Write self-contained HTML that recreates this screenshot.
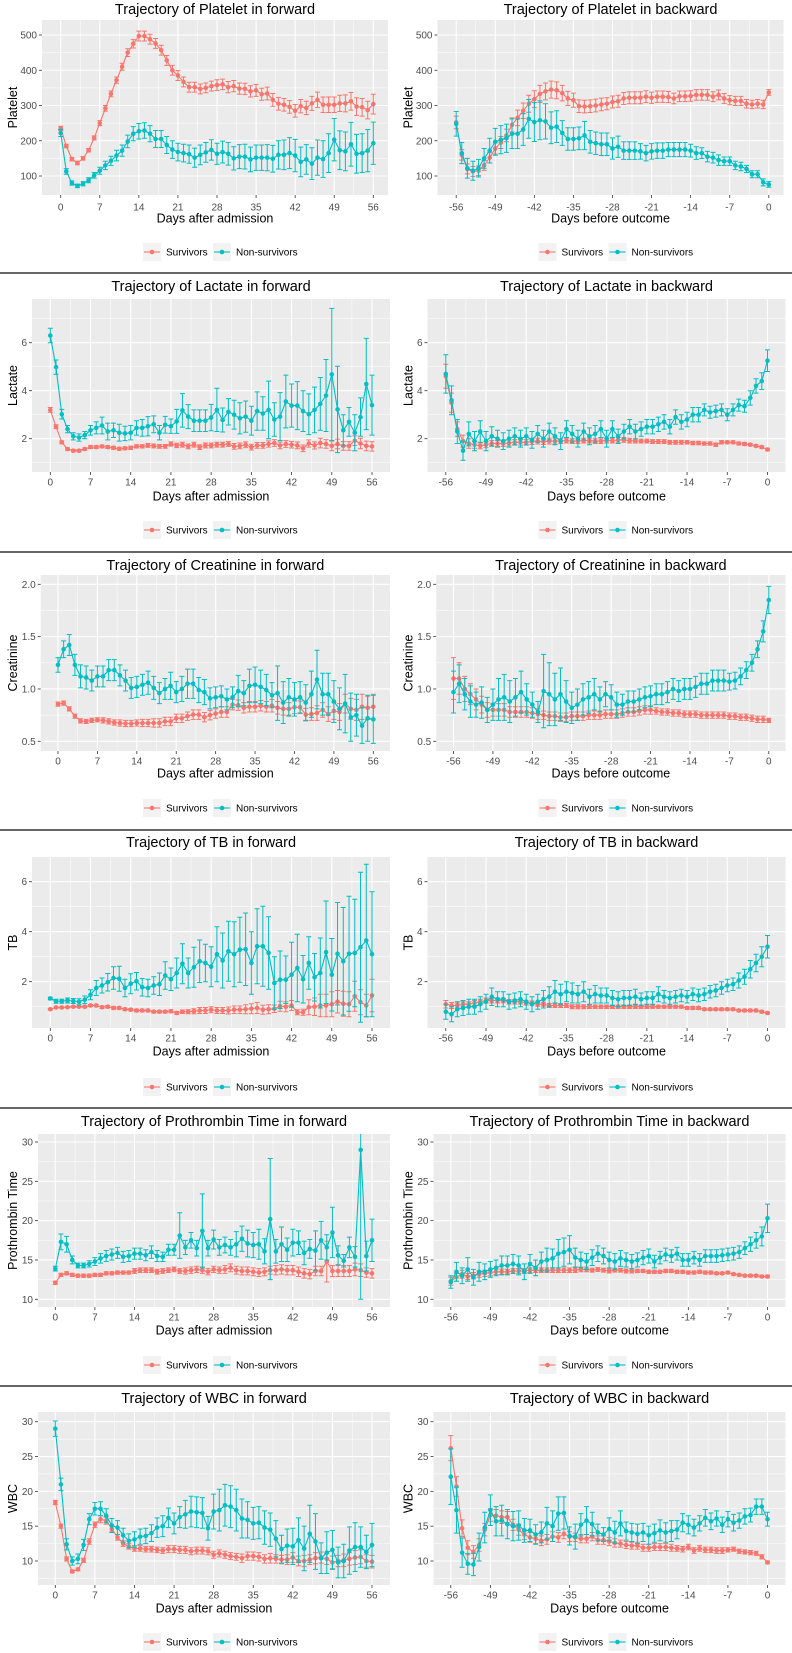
<!DOCTYPE html>
<html><head><meta charset="utf-8"><style>
html,body{margin:0;padding:0;background:#fff;}
svg{display:block;font-family:"Liberation Sans",Arial,sans-serif;}
</style></head><body>
<svg id="fig" width="792" height="1653" viewBox="0 0 792 1653" xmlns="http://www.w3.org/2000/svg"><defs id="defs"></defs></svg>
<script>
// ---------- DATA (days 0..56 forward, -56..0 backward) ----------
const daysForward = Array.from({length:57},(_, i)=>i);
const xTicksForward = [0,7,14,21,28,35,42,49,56];
const xTicksBackward = [-56,-49,-42,-35,-28,-21,-14,-7,0];
const seriesNames = ["Survivors","Non-survivors"];

const plateletFwdSurv = [235,185,148,137,150,173,208,250,292,333,372,410,450,475,497,497,488,476,457,428,400,385,367,352,352,347,350,355,358,360,352,355,348,347,340,343,332,334,316,305,302,296,285,298,293,306,316,302,302,302,306,306,312,297,295,287,304];
const plateletFwdSurvErr = [6,5,5,5,5,5,6,7,8,8,9,10,11,12,14,14,14,14,14,14,14,14,14,14,14,14,14,14,15,15,16,16,16,16,16,17,17,18,18,18,18,18,18,19,19,20,22,22,22,22,23,24,25,25,25,25,28];
const plateletFwdNon = [222,113,80,72,78,88,102,115,130,143,158,172,198,220,227,229,220,205,205,188,175,168,165,162,152,160,167,174,163,168,163,150,155,155,147,152,152,152,149,160,160,165,158,140,147,135,152,148,165,203,173,170,190,163,165,172,193];
const plateletFwdNonErr = [10,8,6,5,6,7,8,10,12,13,15,16,18,20,22,22,23,24,24,24,25,25,25,26,27,28,28,29,30,31,32,33,34,35,35,36,36,37,38,40,42,44,46,42,42,45,50,52,55,60,55,55,62,55,55,60,60];

const plateletBwdSurv = [252,160,120,113,115,130,152,178,195,215,245,265,285,305,318,333,340,345,343,335,320,315,298,297,298,300,303,305,310,312,320,322,322,322,325,322,325,325,324,320,326,326,327,330,330,330,325,330,320,315,313,313,305,303,305,303,337];
const plateletBwdSurvErr = [18,15,14,14,14,14,15,16,17,18,20,22,22,24,24,24,24,24,24,22,20,20,18,18,18,18,18,17,17,17,17,17,17,17,17,16,16,16,16,15,15,15,15,15,15,15,14,14,14,13,13,13,12,12,12,12,8];
const plateletBwdNon = [248,165,122,115,122,150,172,197,203,207,220,220,232,262,253,258,255,237,240,222,205,205,207,215,197,193,190,190,178,183,172,172,172,170,165,170,172,172,175,175,175,175,172,165,165,155,152,145,142,142,130,127,120,105,105,82,76];
const plateletBwdNonErr = [35,30,28,27,25,28,35,38,40,40,42,42,45,55,55,55,50,45,45,35,32,32,32,40,32,32,32,32,30,30,25,25,25,22,22,22,22,22,20,20,20,20,18,18,15,15,15,15,12,12,12,12,10,10,10,10,8];

const lactateFwdSurv = [3.2,2.5,1.85,1.57,1.5,1.5,1.57,1.65,1.65,1.68,1.65,1.62,1.58,1.6,1.62,1.68,1.68,1.72,1.7,1.68,1.68,1.78,1.72,1.75,1.68,1.75,1.65,1.72,1.72,1.75,1.75,1.78,1.68,1.7,1.75,1.65,1.72,1.72,1.78,1.82,1.72,1.78,1.75,1.72,1.6,1.8,1.72,1.82,1.78,1.7,1.78,1.7,1.7,1.92,1.8,1.7,1.68];
const lactateFwdSurvErr = [0.1,0.08,0.06,0.05,0.05,0.05,0.05,0.06,0.06,0.06,0.06,0.06,0.06,0.06,0.07,0.07,0.07,0.08,0.08,0.08,0.08,0.09,0.09,0.1,0.1,0.1,0.1,0.1,0.1,0.1,0.1,0.1,0.12,0.12,0.12,0.12,0.12,0.12,0.13,0.14,0.14,0.14,0.14,0.14,0.14,0.15,0.15,0.2,0.18,0.2,0.2,0.18,0.18,0.2,0.22,0.2,0.2];
const lactateFwdNon = [6.3,4.98,3.02,2.4,2.1,2.05,2.15,2.35,2.45,2.55,2.3,2.35,2.25,2.22,2.25,2.45,2.45,2.52,2.6,2.25,2.58,2.52,2.72,3.18,2.92,2.75,2.75,2.75,2.88,3.2,2.78,3.12,3.0,2.85,2.92,2.75,3.15,3.05,3.2,2.8,2.92,3.55,3.38,3.38,3.15,3.02,3.2,3.45,3.8,4.68,3.22,2.35,2.7,2.25,2.9,4.28,3.4];
const lactateFwdNonErr = [0.3,0.3,0.2,0.15,0.15,0.15,0.15,0.2,0.25,0.35,0.35,0.3,0.35,0.3,0.3,0.3,0.35,0.4,0.35,0.3,0.35,0.3,0.5,0.7,0.5,0.45,0.45,0.45,0.55,0.9,0.5,0.55,0.6,0.65,0.65,0.6,0.8,0.7,1.2,0.7,1.0,1.1,0.9,1.0,0.85,0.85,0.95,1.1,1.5,2.75,1.8,0.65,0.6,0.75,0.8,1.9,1.25];

const lactateBwdSurv = [4.6,3.5,2.4,1.9,1.8,1.75,1.7,1.75,1.8,1.8,1.8,1.82,1.85,1.85,1.85,1.88,1.9,1.88,1.9,1.9,1.9,1.92,1.9,1.9,1.92,1.92,1.9,1.9,1.92,1.92,1.95,1.95,1.92,1.9,1.9,1.9,1.88,1.88,1.88,1.85,1.85,1.85,1.85,1.82,1.82,1.8,1.8,1.75,1.85,1.85,1.85,1.8,1.78,1.75,1.7,1.65,1.55];
const lactateBwdSurvErr = [0.5,0.4,0.3,0.25,0.2,0.15,0.12,0.12,0.12,0.12,0.12,0.12,0.12,0.12,0.12,0.12,0.12,0.12,0.12,0.12,0.1,0.1,0.1,0.1,0.1,0.1,0.1,0.1,0.1,0.1,0.1,0.1,0.1,0.08,0.08,0.08,0.08,0.08,0.08,0.08,0.08,0.08,0.07,0.07,0.07,0.07,0.07,0.07,0.07,0.06,0.06,0.06,0.06,0.05,0.05,0.05,0.05];
const lactateBwdNon = [4.7,3.6,2.3,1.5,2.2,1.9,2.3,1.9,2.1,2.0,1.9,2.0,2.1,2.0,2.1,1.95,2.2,2.0,2.3,2.1,1.9,2.4,2.2,2.0,2.3,2.1,2.2,2.4,2.0,2.4,2.1,2.3,2.5,2.3,2.4,2.5,2.5,2.6,2.7,2.5,2.9,2.7,2.8,3.0,3.0,3.2,3.1,3.15,3.2,3.0,3.2,3.4,3.35,3.7,4.2,4.4,5.25];
const lactateBwdNonErr = [0.8,0.6,0.5,0.4,0.5,0.4,0.45,0.4,0.4,0.35,0.35,0.35,0.35,0.35,0.35,0.35,0.35,0.35,0.35,0.35,0.35,0.35,0.35,0.35,0.35,0.35,0.35,0.35,0.35,0.35,0.3,0.3,0.3,0.3,0.3,0.3,0.3,0.3,0.3,0.3,0.3,0.3,0.3,0.3,0.3,0.25,0.25,0.25,0.25,0.25,0.25,0.25,0.25,0.3,0.3,0.35,0.45];

const creatFwdSurv = [0.855,0.865,0.81,0.74,0.695,0.69,0.70,0.705,0.70,0.69,0.68,0.675,0.67,0.67,0.675,0.675,0.675,0.675,0.675,0.69,0.69,0.72,0.72,0.74,0.755,0.755,0.73,0.75,0.765,0.78,0.78,0.85,0.845,0.82,0.83,0.83,0.84,0.83,0.84,0.82,0.81,0.81,0.825,0.825,0.755,0.76,0.77,0.80,0.76,0.79,0.78,0.86,0.81,0.80,0.83,0.82,0.83];
const creatFwdSurvErr = [0.02,0.02,0.02,0.02,0.02,0.02,0.02,0.02,0.025,0.025,0.025,0.03,0.03,0.03,0.03,0.035,0.035,0.04,0.04,0.04,0.04,0.04,0.04,0.04,0.045,0.045,0.045,0.045,0.045,0.05,0.05,0.05,0.05,0.05,0.05,0.05,0.05,0.05,0.06,0.06,0.06,0.06,0.06,0.06,0.06,0.06,0.07,0.07,0.07,0.08,0.08,0.09,0.1,0.1,0.12,0.11,0.12];
const creatFwdNon = [1.23,1.38,1.42,1.23,1.12,1.11,1.08,1.12,1.12,1.18,1.18,1.13,1.08,1.01,1.02,1.04,1.06,1.01,0.96,1.0,1.03,0.97,1.0,1.05,1.05,0.99,0.97,0.91,0.92,0.93,0.90,0.92,0.98,0.96,1.03,1.04,1.02,0.99,0.94,0.96,0.87,0.92,0.90,0.92,0.87,0.95,1.09,0.95,0.95,0.88,0.81,0.86,0.73,0.75,0.65,0.72,0.71];
const creatFwdNonErr = [0.07,0.08,0.1,0.1,0.11,0.11,0.1,0.1,0.1,0.1,0.1,0.1,0.1,0.1,0.1,0.1,0.11,0.11,0.1,0.1,0.13,0.1,0.12,0.14,0.14,0.12,0.12,0.1,0.1,0.1,0.1,0.1,0.15,0.12,0.16,0.17,0.16,0.15,0.12,0.26,0.2,0.18,0.16,0.15,0.17,0.22,0.28,0.2,0.2,0.2,0.2,0.28,0.23,0.2,0.17,0.22,0.23];

const creatBwdSurv = [1.1,1.1,1.0,0.95,0.9,0.85,0.8,0.8,0.8,0.8,0.78,0.78,0.78,0.78,0.77,0.76,0.75,0.74,0.74,0.73,0.73,0.74,0.74,0.74,0.75,0.75,0.75,0.76,0.76,0.76,0.77,0.78,0.78,0.79,0.80,0.80,0.79,0.78,0.78,0.77,0.77,0.76,0.76,0.76,0.75,0.75,0.75,0.75,0.75,0.74,0.74,0.73,0.73,0.72,0.71,0.71,0.70];
const creatBwdSurvErr = [0.2,0.15,0.12,0.1,0.1,0.08,0.07,0.06,0.06,0.06,0.05,0.05,0.05,0.05,0.05,0.05,0.04,0.04,0.04,0.04,0.04,0.04,0.04,0.04,0.04,0.04,0.04,0.04,0.04,0.04,0.04,0.04,0.04,0.04,0.04,0.04,0.03,0.03,0.03,0.03,0.03,0.03,0.03,0.03,0.03,0.03,0.03,0.03,0.03,0.03,0.03,0.03,0.03,0.03,0.03,0.03,0.02];
const creatBwdNon = [0.97,1.05,0.95,0.88,0.85,0.87,0.80,0.85,0.90,0.92,0.88,0.92,0.97,0.90,0.85,0.78,0.98,0.95,0.90,0.95,0.88,0.82,0.85,0.90,0.92,0.95,0.90,0.95,0.92,0.85,0.85,0.88,0.88,0.90,0.92,0.93,0.95,0.95,0.97,1.0,0.98,1.0,1.0,1.02,1.05,1.05,1.08,1.08,1.08,1.07,1.08,1.12,1.18,1.25,1.38,1.55,1.85];
const creatBwdNonErr = [0.2,0.18,0.15,0.15,0.12,0.15,0.12,0.15,0.2,0.22,0.2,0.18,0.2,0.15,0.12,0.1,0.35,0.3,0.25,0.25,0.2,0.15,0.15,0.15,0.15,0.15,0.12,0.12,0.12,0.12,0.1,0.1,0.1,0.1,0.1,0.1,0.1,0.1,0.1,0.1,0.1,0.1,0.1,0.1,0.1,0.1,0.1,0.1,0.1,0.08,0.08,0.08,0.08,0.08,0.08,0.1,0.13];

const tbFwdSurv = [0.9,0.97,0.97,0.98,1.0,1.0,1.0,1.05,1.05,0.98,1.0,0.95,0.95,0.9,0.88,0.85,0.85,0.85,0.8,0.8,0.8,0.82,0.75,0.8,0.8,0.82,0.85,0.85,0.88,0.85,0.85,0.85,0.88,0.88,0.9,0.92,0.95,0.88,0.9,0.92,1.02,1.0,1.05,0.78,0.78,0.98,1.0,1.05,1.05,1.1,1.2,1.12,1.1,1.42,1.18,1.05,1.45];
const tbFwdSurvErr = [0.03,0.03,0.03,0.03,0.03,0.03,0.04,0.04,0.05,0.05,0.05,0.05,0.05,0.05,0.05,0.05,0.05,0.05,0.05,0.05,0.05,0.06,0.06,0.07,0.08,0.1,0.12,0.12,0.12,0.12,0.12,0.14,0.15,0.15,0.18,0.2,0.22,0.18,0.18,0.15,0.2,0.2,0.2,0.1,0.12,0.3,0.35,0.45,0.45,0.5,0.45,0.5,0.5,0.6,0.5,0.45,0.65];
const tbFwdNon = [1.33,1.22,1.22,1.25,1.23,1.2,1.28,1.48,1.75,1.85,1.98,2.15,2.12,1.75,1.92,2.02,1.78,1.75,1.85,1.9,2.25,2.1,2.35,2.72,2.35,2.58,2.82,2.75,2.6,3.1,2.85,3.22,3.1,3.28,3.3,2.75,3.42,3.42,3.15,1.95,2.08,2.08,2.28,2.55,2.1,2.75,2.18,2.35,3.18,2.28,3.12,2.82,3.12,3.15,3.38,3.65,3.1];
const tbFwdNonErr = [0.05,0.08,0.08,0.1,0.1,0.12,0.15,0.2,0.3,0.3,0.35,0.45,0.5,0.35,0.4,0.35,0.35,0.35,0.35,0.45,0.55,0.45,0.6,0.8,0.6,0.8,0.85,0.75,0.8,1.1,1.1,1.2,1.3,1.3,1.45,1.25,1.5,1.6,1.45,1.05,1.15,0.95,1.3,1.35,0.95,1.05,0.95,1.4,2.05,1.45,2.05,2.15,2.3,2.15,3.0,3.05,2.5];

const tbBwdSurv = [1.1,1.05,1.05,1.1,1.1,1.15,1.2,1.25,1.25,1.25,1.25,1.2,1.2,1.2,1.15,1.15,1.1,1.1,1.05,1.05,1.05,1.05,1.0,1.0,1.0,1.0,1.0,1.0,1.0,1.0,1.0,1.0,1.0,1.0,1.0,1.0,1.0,1.0,1.0,1.0,1.0,1.0,0.95,0.95,0.95,0.9,0.9,0.9,0.9,0.9,0.9,0.85,0.85,0.85,0.85,0.8,0.75];
const tbBwdSurvErr = [0.15,0.12,0.1,0.1,0.1,0.1,0.1,0.1,0.1,0.1,0.09,0.09,0.09,0.09,0.08,0.08,0.08,0.08,0.08,0.08,0.08,0.08,0.08,0.08,0.08,0.07,0.07,0.07,0.07,0.07,0.07,0.07,0.07,0.07,0.07,0.07,0.06,0.06,0.06,0.06,0.06,0.06,0.06,0.06,0.06,0.05,0.05,0.05,0.05,0.05,0.05,0.05,0.05,0.05,0.05,0.05,0.04];
const tbBwdNon = [0.8,0.7,0.9,0.95,1.0,1.0,1.1,1.2,1.4,1.3,1.3,1.2,1.25,1.3,1.2,1.1,1.2,1.3,1.4,1.6,1.5,1.6,1.55,1.5,1.6,1.4,1.5,1.45,1.45,1.35,1.3,1.35,1.35,1.4,1.3,1.35,1.35,1.5,1.4,1.35,1.4,1.45,1.4,1.5,1.45,1.5,1.6,1.65,1.75,1.85,1.9,2.05,2.2,2.5,2.75,3.0,3.4];
const tbBwdNonErr = [0.3,0.3,0.3,0.3,0.3,0.3,0.3,0.3,0.35,0.3,0.3,0.3,0.3,0.3,0.3,0.3,0.3,0.35,0.4,0.45,0.4,0.4,0.4,0.35,0.4,0.3,0.35,0.3,0.3,0.3,0.3,0.3,0.3,0.3,0.25,0.25,0.25,0.3,0.25,0.25,0.25,0.25,0.25,0.25,0.25,0.25,0.25,0.25,0.25,0.25,0.25,0.3,0.3,0.35,0.35,0.4,0.45];

const ptFwdSurv = [12.1,13.1,13.3,13.1,13.0,13.0,13.0,13.1,13.1,13.3,13.3,13.4,13.4,13.4,13.6,13.7,13.7,13.7,13.5,13.6,13.7,13.8,13.6,13.6,13.7,13.8,13.7,13.5,13.8,13.7,13.8,14.0,13.7,13.6,13.6,13.5,13.4,13.5,13.7,13.7,13.8,13.7,13.7,13.5,13.3,13.2,13.6,13.6,14.8,13.6,13.6,13.6,13.6,13.8,13.7,13.4,13.3];
const ptFwdSurvErr = [0.2,0.2,0.2,0.2,0.2,0.2,0.2,0.2,0.2,0.2,0.2,0.2,0.2,0.2,0.3,0.3,0.3,0.3,0.3,0.3,0.3,0.3,0.3,0.4,0.4,0.4,0.4,0.4,0.4,0.4,0.5,0.5,0.5,0.5,0.5,0.5,0.5,0.5,0.5,0.6,0.6,0.6,0.6,0.6,0.6,0.6,0.6,0.6,2.6,0.7,0.7,0.7,0.7,0.8,0.8,0.6,0.6];
const ptFwdNon = [13.9,17.3,17.0,15.0,14.3,14.3,14.5,14.8,15.2,15.5,15.7,15.9,15.4,15.5,15.8,15.8,15.6,16.0,15.5,15.4,16.3,16.3,18.1,16.6,17.5,16.5,18.7,16.5,17.6,16.6,16.9,16.6,17.0,17.7,17.1,16.9,17.0,16.1,20.2,16.1,17.0,16.3,17.2,17.2,15.9,16.4,16.2,17.5,16.6,18.5,15.6,14.9,16.6,15.4,29.0,15.5,17.5];
const ptFwdNonErr = [0.3,1.0,1.0,0.5,0.3,0.3,0.4,0.5,0.6,0.7,0.7,0.7,0.7,0.7,0.7,0.7,0.7,0.8,0.7,0.6,0.7,0.7,2.9,0.9,1.0,1.0,4.7,1.0,1.2,1.0,1.0,1.0,1.6,1.6,1.7,1.6,1.9,1.6,7.7,1.5,2.2,1.5,1.7,1.5,1.5,1.2,2.5,2.4,1.6,3.2,1.2,0.8,1.3,1.3,19,1.9,2.7];

const ptBwdSurv = [12.3,12.8,13.2,12.9,13.0,13.2,13.3,13.4,13.5,13.5,13.5,13.6,13.6,13.6,13.7,13.7,13.7,13.7,13.7,13.7,13.7,13.7,13.7,13.8,13.8,13.7,13.8,13.7,13.6,13.7,13.7,13.6,13.6,13.6,13.6,13.5,13.5,13.5,13.6,13.6,13.5,13.5,13.4,13.4,13.5,13.4,13.4,13.3,13.3,13.4,13.2,13.1,13.0,13.0,13.0,12.9,12.9];
const ptBwdSurvErr = [0.5,0.5,0.5,0.4,0.4,0.4,0.4,0.4,0.35,0.35,0.3,0.3,0.3,0.3,0.3,0.3,0.3,0.3,0.3,0.3,0.3,0.3,0.3,0.3,0.3,0.25,0.25,0.25,0.25,0.25,0.25,0.25,0.25,0.2,0.2,0.2,0.2,0.2,0.2,0.2,0.2,0.2,0.2,0.2,0.2,0.2,0.2,0.15,0.15,0.15,0.15,0.15,0.15,0.15,0.15,0.15,0.15];
const ptBwdNon = [12.2,13.5,13.0,13.8,12.8,13.5,13.5,13.8,14.0,14.3,14.3,14.5,14.3,13.5,14.5,14.0,14.8,15.0,15.2,15.8,16.0,16.3,15.3,15.0,14.8,15.3,15.8,15.5,15.0,14.8,15.2,15.0,14.8,15.0,15.3,15.5,14.8,15.3,15.7,15.5,15.8,15.0,15.0,15.3,15.0,15.5,15.5,15.5,15.6,15.7,15.8,16.0,16.5,17.0,17.5,18.0,20.3];
const ptBwdNonErr = [0.8,1.2,1.0,1.5,1.0,1.2,1.0,1.0,1.0,1.2,1.2,1.2,1.2,1.0,1.2,1.0,1.2,1.5,1.2,1.8,1.8,1.8,1.2,1.0,1.0,1.0,1.0,1.0,1.0,1.0,1.0,0.9,0.9,0.9,0.9,0.9,0.8,0.8,0.8,0.8,0.8,0.8,0.8,0.8,0.8,0.8,0.8,0.8,0.8,0.8,0.8,0.8,0.8,0.9,1.0,1.2,1.8];

const wbcFwdSurv = [18.4,15.0,10.3,8.5,8.8,10.1,12.8,15.2,16.0,15.8,14.6,13.4,12.5,12.1,11.8,11.8,11.7,11.7,11.6,11.5,11.7,11.7,11.6,11.6,11.4,11.5,11.5,11.4,10.9,11.1,10.9,10.7,10.6,10.4,10.7,10.7,10.6,10.3,10.4,10.3,10.2,10.2,10.5,10.0,10.0,10.2,10.4,10.5,10.3,9.8,10.0,10.1,10.3,10.5,10.6,10.0,9.9];
const wbcFwdSurvErr = [0.3,0.3,0.3,0.2,0.2,0.3,0.4,0.4,0.5,0.5,0.4,0.4,0.4,0.4,0.4,0.4,0.4,0.4,0.4,0.4,0.5,0.5,0.5,0.5,0.5,0.5,0.5,0.5,0.5,0.5,0.5,0.5,0.5,0.6,0.6,0.6,0.6,0.6,0.7,0.6,0.6,0.7,0.7,0.7,0.8,0.7,0.8,0.8,0.8,0.9,0.8,0.9,0.9,1.0,1.0,0.9,0.9];
const wbcFwdNon = [29.0,21.0,12.4,10.0,10.3,12.3,16.0,17.5,17.5,16.5,15.1,14.8,13.7,12.9,13.1,13.5,13.6,14.0,14.8,15.0,16.2,15.4,16.3,16.7,17.1,17.0,16.9,14.7,17.1,17.3,18.0,17.8,17.3,16.1,15.9,15.4,15.5,14.8,14.5,13.2,11.7,12.2,12.1,13.0,11.8,13.9,12.8,10.4,11.2,11.6,9.8,10.0,11.5,12.0,12.0,11.3,12.3];
const wbcFwdNonErr = [1.1,0.9,0.8,0.6,0.7,0.8,0.8,0.9,1.0,1.0,1.0,1.0,1.0,1.0,1.1,1.1,1.1,1.2,1.4,1.5,1.4,1.5,1.5,2.0,2.2,2.2,2.2,1.7,2.5,3.0,3.0,3.0,3.0,2.8,2.6,2.3,2.3,2.4,2.4,2.6,2.0,2.4,2.6,3.2,3.2,4.1,4.0,2.2,3.0,2.8,2.2,2.4,3.4,3.5,2.9,2.4,3.1];

const wbcBwdSurv = [26.2,20.7,14.7,11.9,11.3,12.3,14.5,16.6,16.5,16.3,16.3,15.2,14.5,13.8,13.4,13.2,12.9,13.1,13.5,13.4,13.9,13.5,13.4,13.2,13.2,13.5,13.0,13.0,12.8,12.6,12.5,12.3,12.2,12.2,11.9,11.9,12.0,12.0,12.0,11.9,11.8,11.7,12.0,11.5,11.8,11.6,11.6,11.5,11.5,11.6,11.7,11.4,11.3,11.2,11.1,10.6,9.8];
const wbcBwdSurvErr = [1.8,1.4,1.2,1.0,0.9,0.9,0.9,0.9,0.9,0.9,0.8,0.8,0.8,0.7,0.7,0.7,0.7,0.7,0.7,0.7,0.7,0.7,0.6,0.6,0.6,0.6,0.6,0.6,0.6,0.6,0.5,0.5,0.5,0.5,0.5,0.5,0.5,0.5,0.5,0.5,0.4,0.4,0.4,0.4,0.4,0.4,0.4,0.4,0.4,0.3,0.3,0.3,0.3,0.3,0.3,0.3,0.2];
const wbcBwdNon = [22.1,17.3,11.2,9.6,9.5,12.0,14.8,17.3,15.7,15.8,15.3,15.0,15.1,14.4,14.4,13.8,14.1,15.4,15.0,16.8,16.9,13.6,13.5,15.2,15.8,15.3,14.1,13.8,14.6,14.1,15.4,14.3,14.1,13.9,14.1,13.7,14.0,14.4,14.1,14.3,14.5,15.5,15.2,14.8,15.4,16.2,15.7,16.1,15.2,16.0,15.5,15.8,16.4,16.6,17.8,17.8,16.0];
const wbcBwdNonErr = [4.0,3.3,2.1,1.5,1.6,2.0,2.2,2.2,2.1,2.2,2.1,2.1,2.1,1.7,1.6,1.4,1.5,2.3,2.2,2.4,2.3,1.3,1.8,1.6,2.0,1.7,1.2,1.0,1.6,1.6,1.8,1.3,1.3,1.4,1.3,1.3,1.3,1.5,1.4,1.5,1.3,1.3,1.3,1.2,1.1,1.2,1.2,1.1,1.1,1.1,1.2,1.1,1.1,1.0,1.1,1.1,1.0];

// ---------- LAYOUT ----------
const NS = "http://www.w3.org/2000/svg";
const svg = document.getElementById('fig');
const defs = document.getElementById('defs');
const COLORS = ["#F8766D","#00BFC4"];
const RIGHT_SHIFT = 395.5;

const rows = [
 {name:"Platelet", label:"Platelet", top:20, bot:195, left:42, right:388, x0:60.7, x56:373.3, ya:[500,35], yb:[100,176], yticks:[100,200,300,400,500], yminor:[150,250,350,450], titleY:9, tickY:207, xtitleY:218, legY:252,
  fwd:[plateletFwdSurv,plateletFwdSurvErr,plateletFwdNon,plateletFwdNonErr], bwd:[plateletBwdSurv,plateletBwdSurvErr,plateletBwdNon,plateletBwdNonErr]},
 {name:"Lactate", label:"Lactate", top:299, bot:472, left:32, right:390, x0:50.3, x56:372, ya:[6,342.7], yb:[2,438.7], yticks:[2,4,6], yminor:[1,3,5,7], titleY:286, tickY:482, xtitleY:496, legY:530,
  fwd:[lactateFwdSurv,lactateFwdSurvErr,lactateFwdNon,lactateFwdNonErr], bwd:[lactateBwdSurv,lactateBwdSurvErr,lactateBwdNon,lactateBwdNonErr]},
 {name:"Creatinine", label:"Creatinine", top:575, bot:751, left:40.7, right:390, x0:58, x56:373.3, ya:[2.0,584.3], yb:[0.5,741.3], yticks:[0.5,1.0,1.5,2.0], yminor:[0.75,1.25,1.75], titleY:565, tickY:761, xtitleY:773, legY:808,
  fwd:[creatFwdSurv,creatFwdSurvErr,creatFwdNon,creatFwdNonErr], bwd:[creatBwdSurv,creatBwdSurvErr,creatBwdNon,creatBwdNonErr], dec:1},
 {name:"TB", label:"TB", top:857, bot:1028, left:32, right:390, x0:50.3, x56:372, ya:[6,881.7], yb:[2,981.7], yticks:[2,4,6], yminor:[1,3,5], titleY:842, tickY:1038, xtitleY:1051, legY:1087,
  fwd:[tbFwdSurv,tbFwdSurvErr,tbFwdNon,tbFwdNonErr], bwd:[tbBwdSurv,tbBwdSurvErr,tbBwdNon,tbBwdNonErr]},
 {name:"Prothrombin Time", label:"Prothrombin Time", top:1134, bot:1307, left:38, right:390, x0:55.3, x56:372, ya:[30,1142], yb:[10,1299.3], yticks:[10,15,20,25,30], yminor:[12.5,17.5,22.5,27.5], titleY:1121, tickY:1317, xtitleY:1330, legY:1365,
  fwd:[ptFwdSurv,ptFwdSurvErr,ptFwdNon,ptFwdNonErr], bwd:[ptBwdSurv,ptBwdSurvErr,ptBwdNon,ptBwdNonErr]},
 {name:"WBC", label:"WBC", top:1412, bot:1585, left:38, right:390, x0:55.3, x56:372, ya:[30,1421.7], yb:[10,1561], yticks:[10,15,20,25,30], yminor:[7.5,12.5,17.5,22.5,27.5], titleY:1398, tickY:1595, xtitleY:1608, legY:1642,
  fwd:[wbcFwdSurv,wbcFwdSurvErr,wbcFwdNon,wbcFwdNonErr], bwd:[wbcBwdSurv,wbcBwdSurvErr,wbcBwdNon,wbcBwdNonErr]}
];
const dividers = [273,552,830,1108,1386];

function el(tag, attrs, parent){
  const e = document.createElementNS(NS, tag);
  for (const k in attrs) e.setAttribute(k, attrs[k]);
  (parent||svg).appendChild(e);
  return e;
}

dividers.forEach(y=>{
  const l = el('line',{x1:0,x2:792,y1:y,y2:y,stroke:'#333',"stroke-width":1.6});
  
  
});

rows.forEach((r, ri)=>{
  [0,1].forEach(side=>{
    const dx = side ? RIGHT_SHIFT : 0;
    const left = r.left+dx, right = Math.min(r.right+dx, 787);
    const dir = side ? "backward" : "forward";
    const key = r.name.toLowerCase().replace(/\s+/g,'-')+'-'+dir;
    const g = el('g',{});
    
    

    const clipId = 'clip-'+key;
    const cp = el('clipPath',{id:clipId}, defs);
    el('rect',{x:left,y:r.top,width:right-left,height:r.bot-r.top}, cp);

    const xScale = d => { const t = side ? d+56 : d; return r.x0+dx + (r.x56 - r.x0)*t/56; };
    const yk = (r.ya[1]-r.yb[1])/(r.ya[0]-r.yb[0]);
    const yScale = v => r.yb[1] + (v - r.yb[0])*yk;

    const t = el('text',{x:(left+right)/2, y:r.titleY+5, "text-anchor":"middle","font-size":14.5, fill:'#000'}, g);
    t.textContent = "Trajectory of "+r.name+" in "+dir;
    
    

    const bg = el('rect',{x:left,y:r.top,width:right-left,height:r.bot-r.top,fill:'#EBEBEB'}, g);
    
    

    r.yminor.forEach(v=>{ const y=yScale(v); if(y>r.top&&y<r.bot) el('line',{x1:left,x2:right,y1:y,y2:y,stroke:'#fff','stroke-width':0.5},g); });
    for (let d=-3.5; d<=60; d+=7){ const x=xScale(side? d-56 : d); if(x>left&&x<right) el('line',{x1:x,x2:x,y1:r.top,y2:r.bot,stroke:'#fff','stroke-width':0.5},g); }
    r.yticks.forEach(v=>{
      const y=yScale(v);
      el('line',{x1:left,x2:right,y1:y,y2:y,stroke:'#fff','stroke-width':1.1},g);
      el('line',{x1:left-3,x2:left,y1:y,y2:y,stroke:'#333','stroke-width':0.8},g);
      const tl = el('text',{x:left-5,y:y+3.5,"text-anchor":"end","font-size":10,fill:'#4D4D4D'},g);
      tl.textContent = r.dec ? v.toFixed(1) : String(v);
      
      
    });
    const xt = side ? xTicksBackward : xTicksForward;
    xt.forEach(d=>{
      const x=xScale(d);
      el('line',{x1:x,x2:x,y1:r.top,y2:r.bot,stroke:'#fff','stroke-width':1.1},g);
      el('line',{x1:x,x2:x,y1:r.bot,y2:r.bot+3,stroke:'#333','stroke-width':0.8},g);
      const tl = el('text',{x:x,y:r.tickY+3.5,"text-anchor":"middle","font-size":10,fill:'#4D4D4D'},g);
      tl.textContent = String(d);
      
      
    });

    const xtl = el('text',{x:(left+right)/2,y:r.xtitleY+4.5,"text-anchor":"middle","font-size":12.5,fill:'#000'},g);
    xtl.textContent = side ? "Days before outcome" : "Days after admission";
    
    
    const ycy = (r.top+r.bot)/2;
    const ytl = el('text',{x:0,y:0,"text-anchor":"middle","font-size":12.5,fill:'#000',transform:`translate(${17+dx},${ycy}) rotate(-90)`},g);
    ytl.textContent = r.label;
    
    

    const data = side ? r.bwd : r.fwd;
    const plotG = el('g',{'clip-path':`url(#${clipId})`},g);
    
    
    [0,1].forEach(s=>{
      const vals = data[s*2], errs = data[s*2+1];
      const sg = el('g',{},plotG);
      
      
      const pts = vals.map((v,i)=>{ const d = side ? i-(vals.length-1) : i; return [xScale(d), yScale(v)]; });
      el('polyline',{points:pts.map(p=>p[0].toFixed(1)+','+p[1].toFixed(1)).join(' '),fill:'none',stroke:COLORS[s],'stroke-width':1.1},sg);
      vals.forEach((v,i)=>{
        const x = pts[i][0];
        const y1 = yScale(v+errs[i]), y2 = yScale(v-errs[i]);
        el('path',{d:`M${x-2.5},${y1}H${x+2.5}M${x},${y1}V${y2}M${x-2.5},${y2}H${x+2.5}`,stroke:COLORS[s],'stroke-width':1,fill:'none'},sg);
      });
      vals.forEach((v,i)=>{
        const c = el('circle',{cx:pts[i][0],cy:pts[i][1],r:2.3,fill:COLORS[s]},sg);
        
        
      });
    });

    const lx = 143 + dx, ly = r.legY;
    const lg = el('g',{},g);
    
    
    const items = [[lx,seriesNames[0],0],[lx+70,seriesNames[1],1]];
    items.forEach(([x,txt,s])=>{
      const eg = el('g',{},lg);
      
      
      el('rect',{x:x,y:ly-9,width:18,height:18,fill:'#F2F2F2'},eg);
      el('line',{x1:x+1,x2:x+17,y1:ly,y2:ly,stroke:COLORS[s],'stroke-width':1.1},eg);
      el('circle',{cx:x+9,cy:ly,r:2.3,fill:COLORS[s]},eg);
      const tt = el('text',{x:x+23,y:ly+3.5,"font-size":10,fill:'#000'},eg);
      tt.textContent = txt;
    });
  });
});
</script>
</body></html>
